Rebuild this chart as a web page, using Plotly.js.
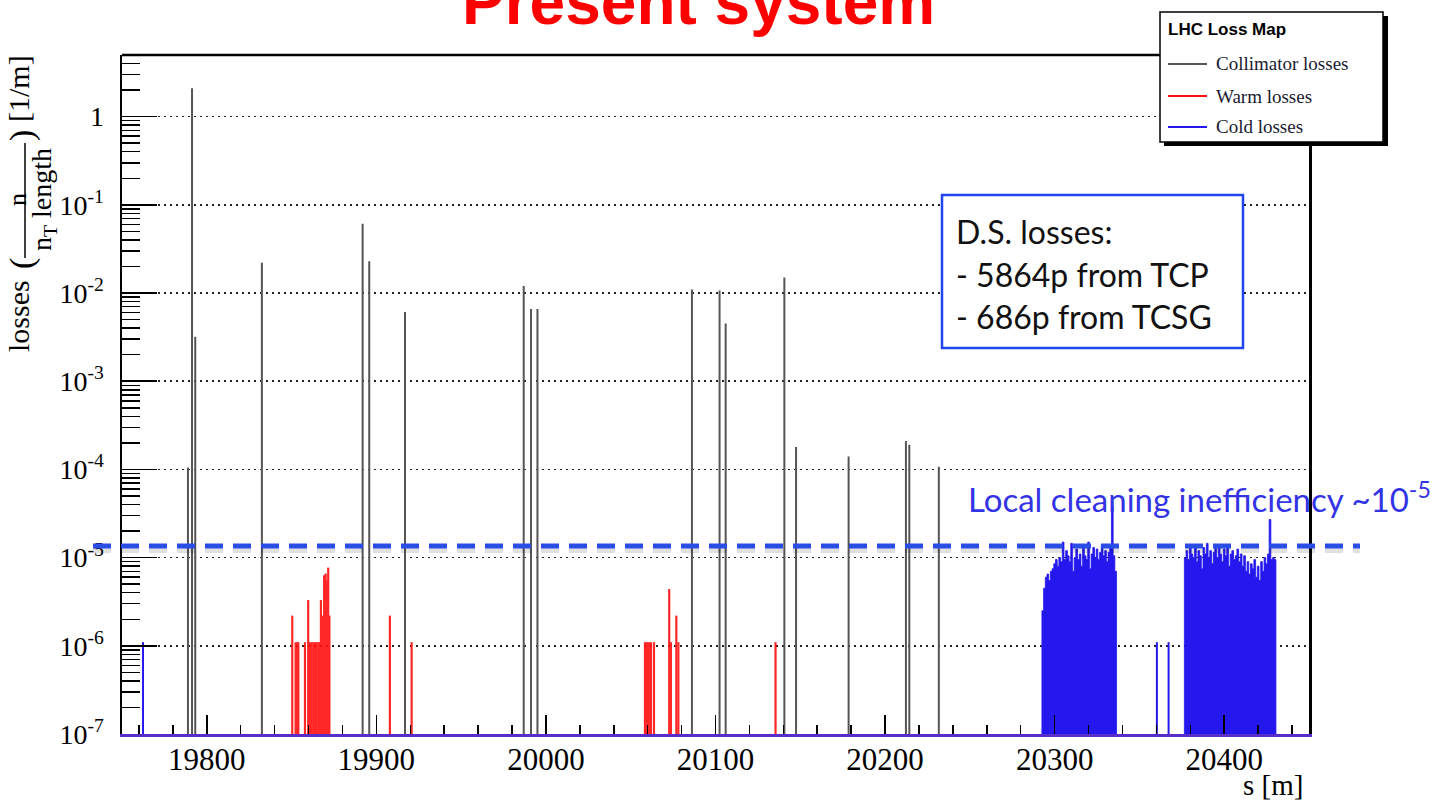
<!DOCTYPE html>
<html>
<head>
<meta charset="utf-8">
<script src="https://cdn.plot.ly/plotly-3.0.1.min.js"></script>
<style>html,body{margin:0;padding:0;background:#fff;}#chart{width:1456px;height:805px;}</style>
</head>
<body>
<div id="chart"></div>
<script>
// ---------------- data ----------------
const collimatorS = [19788.9, 19791.3, 19793.2, 19832.5, 19891.9, 19895.8, 19916.9, 19986.9, 19991.2, 19995.0,
                     20086.1, 20102.4, 20106.0, 20140.6, 20147.5, 20178.5, 20212.3, 20214.3, 20231.7];
const collimatorV = [1.05e-4, 2.1, 3.2e-3, 0.022, 0.061, 0.023, 0.0061, 0.012, 0.0066, 0.0066,
                     0.011, 0.0107, 0.0045, 0.015, 1.8e-4, 1.4e-4, 2.1e-4, 1.9e-4, 1.07e-4];

const warmS = [19850.4, 19852.4, 19853.3, 19854.0, 19857.9, 19859.8, 19860.8, 19861.8, 19862.8, 19863.8,
               19864.8, 19865.8, 19866.8, 19867.3, 19868.2, 19869.2, 19870.1, 19870.8, 19871.6, 19872.3,
               19908.0, 19920.8, 20058.4, 20059.6, 20060.8, 20061.9, 20063.7, 20072.7, 20073.7, 20076.9,
               20078.1, 20135.4];
const warmV = [2.2e-6, 1.1e-6, 1.1e-6, 1.1e-6, 1.1e-6, 3.3e-6, 1.1e-6, 1.1e-6, 1.1e-6, 1.1e-6,
               1.1e-6, 1.1e-6, 1.1e-6, 3.3e-6, 2.2e-6, 6.3e-6, 6.6e-6, 5.5e-6, 7.7e-6, 2.2e-6,
               2.2e-6, 1.1e-6, 1.1e-6, 1.1e-6, 1.1e-6, 1.1e-6, 1.1e-6, 4.4e-6, 1.1e-6, 2.2e-6,
               1.1e-6, 1.1e-6];

const coldSingleS = [19762.4, 20360.3, 20367.2];
const coldSingleV = [1.1e-6, 1.1e-6, 1.1e-6];

// dispersion-suppressor cold regions, 1 m bins (values in units of 1e-6 per m)
const coldBlock1Start = 20293;
const coldBlock1V = [2.5, 4.5, 6.0, 6.5, 5.5, 7.0, 7.5, 8.5, 9.5, 8.0,
                     10.0, 9.0, 15.0, 9.5, 12.0, 10.5, 9.0, 14.5, 7.0, 10.0,
                     12.5, 9.5, 11.0, 8.0, 13.5, 10.5, 9.5, 15.0, 7.5, 11.0,
                     13.0, 10.0, 12.5, 9.5, 11.5, 14.0, 10.5, 12.0, 9.0, 11.5,
                     13.0, 38.0, 10.5, 7.0];
const coldBlock2Start = 20377;
const coldBlock2V = [10, 12, 9.5, 13, 11, 10, 14, 9, 12, 10.5,
                     7.5, 13, 11, 14.5, 10, 12, 8.5, 11.5, 13.5, 10,
                     14, 11, 9, 12.5, 10.5, 13, 8, 11, 12, 9.5,
                     10.5, 12.5, 9, 11, 8, 10.5, 7, 9, 6.5, 8.5,
                     7.5, 9.5, 6, 8, 5.5, 9, 7, 10, 8.5, 11,
                     27, 9.5, 10, 9.5];
const binWidth = 1;      // m
const valueUnit = 1e-6;  // block values unit

const thresholdValue = 1.35e-5;   // "local cleaning inefficiency" level
const xTickLabels = ['19800', '19900', '20000', '20100', '20200', '20300', '20400'];
const yTickVals = [1e-7, 1e-6, 1e-5, 1e-4, 1e-3, 1e-2, 1e-1, 1];
const yTickLabels = ['10<sup>-7</sup>', '10<sup>-6</sup>', '10<sup>-5</sup>', '10<sup>-4</sup>',
                     '10<sup>-3</sup>', '10<sup>-2</sup>', '10<sup>-1</sup>', '1'];
const legendNames = ['Collimator losses', 'Warm losses', 'Cold losses'];
const seriesColors = ['#555555', '#ff1010', '#2418ee'];

// ---------------- helpers ----------------
const BASE = 1e-7;
function spikes(xs, ys) {
  const X = [], Y = [];
  xs.forEach((x, i) => { X.push(x, x, null); Y.push(BASE, ys[i], null); });
  return {X, Y};
}
function stepBlock(start, vals) {
  const X = [start - binWidth / 2], Y = [BASE];
  vals.forEach((v, i) => {
    const lo = start + (i - 0.5) * binWidth, hi = start + (i + 0.5) * binWidth;
    X.push(lo, hi); Y.push(v * valueUnit, v * valueUnit);
  });
  X.push(start + (vals.length - 0.5) * binWidth); Y.push(BASE);
  X.push(start - binWidth / 2); Y.push(BASE);
  return {X, Y};
}
const L = 122, R = 1309, T = 55, B = 734;
const px = p => (p - L) / (R - L);
const py = p => (B - p) / (B - T);
const yLogMin = -7, yLogMax = Math.log10(5);
const pyVal = v => (Math.log10(v) - yLogMin) / (yLogMax - yLogMin);

const c = spikes(collimatorS, collimatorV);
const w = spikes(warmS, warmV);
const k = spikes(coldSingleS, coldSingleV);
const b1 = stepBlock(coldBlock1Start, coldBlock1V);
const b2 = stepBlock(coldBlock2Start, coldBlock2V);

const traces = [
  {x: c.X, y: c.Y, type: 'scatter', mode: 'lines', name: legendNames[0], showlegend: false,
   line: {color: seriesColors[0], width: 2}, hoverinfo: 'skip'},
  {x: w.X, y: w.Y, type: 'scatter', mode: 'lines', name: legendNames[1], showlegend: false,
   line: {color: seriesColors[1], width: 2.2}, opacity: 0.9, hoverinfo: 'skip'},
  {x: k.X, y: k.Y, type: 'scatter', mode: 'lines', name: legendNames[2], showlegend: false,
   line: {color: seriesColors[2], width: 2}, hoverinfo: 'skip'},
  {x: b1.X, y: b1.Y, type: 'scatter', mode: 'lines', name: legendNames[2] + ' (block 1)', showlegend: false,
   fill: 'toself', fillcolor: seriesColors[2], line: {color: seriesColors[2], width: 0.8}, hoverinfo: 'skip'},
  {x: b2.X, y: b2.Y, type: 'scatter', mode: 'lines', name: legendNames[2] + ' (block 2)', showlegend: false,
   fill: 'toself', fillcolor: seriesColors[2], line: {color: seriesColors[2], width: 0.8}, hoverinfo: 'skip'}
];

const serif = 'Liberation Serif, Times New Roman, serif';
const sans = 'Lato, Open Sans, sans-serif';
const P = (text, xp, yp, opts) => Object.assign({text, x: px(xp), y: py(yp), xref: 'paper', yref: 'paper',
  xanchor: 'center', yanchor: 'middle', showarrow: false}, opts);

const annotations = [
  P('<b>Present system</b>', 698, 2, {font: {family: 'Liberation Sans, Arial, sans-serif', size: 64, color: '#ff0000'}}),
  P('Local cleaning inefficiency ~10<sup>-5</sup>', 966, 497, {xanchor: 'left', font: {family: sans, size: 33, color: '#3333e6'}}),
  P('D.S. losses:', 954, 232, {xanchor: 'left', font: {family: sans, size: 32, color: '#111'}}),
  P('- 5864p from TCP', 954, 274, {xanchor: 'left', font: {family: sans, size: 32, color: '#111'}}),
  P('- 686p from TCSG', 954, 316, {xanchor: 'left', font: {family: sans, size: 32, color: '#111'}}),
  P('s [m]', 1305, 785, {xanchor: 'right', font: {family: serif, size: 29, color: '#000'}}),
  // y-axis title: losses ( n / (n_T length) ) [1/m]
  P('losses', 18, 316, {textangle: -90, font: {family: serif, size: 30, color: '#000'}}),
  P('(', 22, 264, {textangle: -90, font: {family: serif, size: 34, color: '#000'}}),
  P('n', 17, 200, {textangle: -90, font: {family: serif, size: 26, color: '#000'}}),
  P('n<sub>T</sub> length', 43, 200, {textangle: -90, font: {family: serif, size: 28, color: '#000'}}),
  P(')', 22, 136, {textangle: -90, font: {family: serif, size: 34, color: '#000'}}),
  P('[1/m]', 18, 89, {textangle: -90, font: {family: serif, size: 30, color: '#000'}}),
  // legend (ROOT-style box)
  P('<b>LHC Loss Map</b>', 1166, 30, {xanchor: 'left', font: {family: 'Liberation Sans, Arial, sans-serif', size: 17, color: '#000'}}),
  P(legendNames[0], 1214, 64, {xanchor: 'left', font: {family: serif, size: 19, color: '#1a1a30'}}),
  P(legendNames[1], 1214, 96, {xanchor: 'left', font: {family: serif, size: 19, color: '#1a1a30'}}),
  P(legendNames[2], 1214, 127, {xanchor: 'left', font: {family: serif, size: 19, color: '#1a1a30'}})
];

const legendLine = (yp, color) => ({type: 'line', xref: 'paper', yref: 'paper', x0: px(1168), x1: px(1207),
  y0: py(yp), y1: py(yp), line: {color, width: 2}, layer: 'above'});

const shapes = [
  // top frame line
  {type: 'line', xref: 'paper', yref: 'paper', x0: 0, x1: 1, y0: 1, y1: 1, line: {color: '#000', width: 2.5}},
  // dashed threshold line with soft shadow
  {type: 'line', xref: 'paper', yref: 'paper', x0: px(93), x1: px(1360), y0: pyVal(thresholdValue) - 3 / 679,
   y1: pyVal(thresholdValue) - 3 / 679, line: {color: 'rgba(0,0,0,0.12)', width: 8, dash: '18px,10px'}, layer: 'above'},
  {type: 'line', xref: 'paper', yref: 'paper', x0: px(93), x1: px(1360), y0: pyVal(thresholdValue),
   y1: pyVal(thresholdValue), line: {color: '#2a4de8', width: 5, dash: '18px,10px'}, layer: 'above'},
  // D.S. losses box
  {type: 'rect', xref: 'paper', yref: 'paper', x0: px(942), x1: px(1243), y0: py(348), y1: py(195),
   line: {color: '#2244ee', width: 2.5}, fillcolor: '#fff', layer: 'above'},
  // y-title fraction bar
  {type: 'line', xref: 'paper', yref: 'paper', x0: px(25), x1: px(25), y0: py(258), y1: py(143),
   line: {color: '#000', width: 1.5}},
  // legend shadow and box
  {type: 'rect', xref: 'paper', yref: 'paper', x0: px(1164), x1: px(1388), y0: py(146), y1: py(16),
   line: {width: 0}, fillcolor: '#000', layer: 'above'},
  {type: 'rect', xref: 'paper', yref: 'paper', x0: px(1160), x1: px(1383), y0: py(142), y1: py(12),
   line: {color: '#000', width: 1.5}, fillcolor: '#fff', layer: 'above'},
  legendLine(64, seriesColors[0]), legendLine(96, seriesColors[1]), legendLine(127, seriesColors[2])
];

const layout = {
  width: 1456, height: 805,
  margin: {l: L, r: 1456 - R, t: T, b: 805 - B, pad: 0},
  paper_bgcolor: '#fff', plot_bgcolor: '#fff',
  showlegend: false,
  xaxis: {
    range: [19750, 20450], tickmode: 'array',
    tickvals: xTickLabels.map(Number), ticktext: xTickLabels,
    ticks: 'inside', ticklen: 19, tickwidth: 1.5, tickcolor: '#000',
    minor: {ticks: 'inside', ticklen: 9, dtick: 20, tick0: 19800, tickwidth: 1.5, tickcolor: '#000', showgrid: false},
    showline: true, linecolor: '#5a2cc8', linewidth: 2.5, mirror: false,
    showgrid: false, zeroline: false,
    tickfont: {family: serif, size: 31, color: '#000'}, ticklabelstandoff: -4
  },
  yaxis: {
    type: 'log', range: [yLogMin, yLogMax], tickmode: 'array', tickvals: yTickVals, ticktext: yTickLabels,
    ticks: 'inside', ticklen: 35, tickwidth: 1.5, tickcolor: '#000',
    minor: {ticks: 'inside', ticklen: 18, dtick: 'D1', tickwidth: 1.5, tickcolor: '#000', showgrid: false},
    showline: true, linecolor: '#000', linewidth: 2.5, mirror: true,
    showgrid: true, gridcolor: '#222', gridwidth: 1.5, griddash: '2px,4px',
    zeroline: false,
    tickfont: {family: serif, size: 28, color: '#000'}, ticklabelstandoff: 10
  },
  annotations: annotations,
  shapes: shapes
};

Plotly.newPlot('chart', traces, layout, {staticPlot: true, displayModeBar: false});
</script>
</body>
</html>
